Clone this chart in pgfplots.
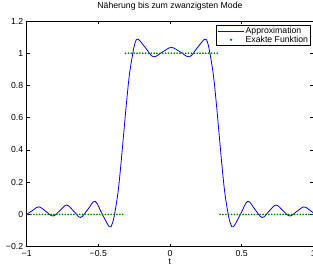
\documentclass[border=0pt]{standalone}
\usepackage{fontspec}
\setmainfont{Liberation Sans}
\usepackage{pgfplots}
\pgfplotsset{compat=1.18}
\usetikzlibrary{calc}
\definecolor{mblue}{rgb}{0,0,1}
\definecolor{mgreen}{rgb}{0,0.5,0}
\newcommand{\fs}{\fontsize{8.7}{10.4}\selectfont}
\pgfplotsset{
  legline/.style={legend image code/.code={\pgfsetstrokecolor{mblue}\draw[draw=mblue, line width=0.8pt] (0pt,0pt) -- (26pt,0pt);}},
  legmark/.style={legend image code/.code={\fill[color=mgreen] (13pt,0pt) circle[radius=0.6pt];}},
}
\begin{document}
\begin{tikzpicture}
\begin{axis}[
  name=ax,
  scale only axis,
  width=286.6pt, height=225.7pt,
  xmin=-1, xmax=1, ymin=-0.2, ymax=1.2,
  xtick={-1,-0.5,0,0.5,1},
  xticklabels={−1,−0.5,0,0.5,1},
  ytick={-0.2,0,0.2,0.4,0.6,0.8,1,1.2},
  yticklabels={−0.2,0,0.2,0.4,0.6,0.8,1,1.2},
  tick align=inside,
  major tick length=3pt,
  tick style={black, line width=0.5pt},
  axis line style={line width=0.5pt},
  font=\fs,
  ticklabel style={font=\fs},
  title={Näherung bis zum zwanzigsten Mode},
  title style={font=\fs, yshift=1.5pt},
  xlabel={t},
  xlabel style={font=\fs, yshift=4pt},
  legend style={at={(1,1)}, anchor=north east, xshift=-2pt, yshift=-4pt,
    draw=black, line width=0.9pt, fill=white, font=\fs,
    inner xsep=1.5pt, inner ysep=0.5pt, row sep=-1.5pt,
    nodes={inner sep=1.2pt}},
  legend cell align=left,
]
\addplot[color=mblue, line width=0.8pt, smooth, tension=0.6, legline]
coordinates {
(-1.0,0.0) (-0.953,0.028) (-0.915,0.047) (-0.865,0.018) (-0.816,-0.01)
(-0.768,0.024) (-0.72,0.058) (-0.672,0.02) (-0.624,-0.019) (-0.573,0.031)
(-0.523,0.081) (-0.473,0.002) (-0.423,-0.077) (-0.403,-0.058) (-0.387,0.0)
(-0.363,0.134) (-0.343,0.304) (-0.323,0.5) (-0.303,0.696) (-0.283,0.866)
(-0.259,1.0) (-0.243,1.065) (-0.223,1.0875) (-0.17,1.033) (-0.116,0.978)
(-0.053,1.007) (0.01,1.036) (0.073,1.007) (0.136,0.978) (0.19,1.033)
(0.243,1.0875) (0.263,1.065) (0.279,1.0) (0.303,0.866) (0.323,0.696)
(0.343,0.5) (0.363,0.304) (0.383,0.134) (0.407,0.0) (0.423,-0.058)
(0.443,-0.077) (0.493,0.002) (0.543,0.081) (0.593,0.031) (0.644,-0.019)
(0.692,0.02) (0.74,0.058) (0.788,0.024) (0.836,-0.01) (0.885,0.018)
(0.935,0.047) (0.973,0.028) (1.0,0.01)
};
\addlegendentry{Approximation}
\addplot[color=mgreen, only marks, mark=*, mark size=0.6pt, legmark]
coordinates {
(-0.99,0) (-0.97,0) (-0.95,0) (-0.93,0) (-0.91,0) (-0.89,0) (-0.87,0) (-0.85,0)
(-0.83,0) (-0.81,0) (-0.79,0) (-0.77,0) (-0.75,0) (-0.73,0) (-0.71,0) (-0.69,0)
(-0.67,0) (-0.65,0) (-0.63,0) (-0.61,0) (-0.59,0) (-0.57,0) (-0.55,0) (-0.53,0)
(-0.51,0) (-0.49,0) (-0.47,0) (-0.45,0) (-0.43,0) (-0.41,0) (-0.39,0) (-0.37,0)
(-0.35,0) (-0.33,0)
(-0.31,1) (-0.29,1) (-0.27,1) (-0.25,1) (-0.23,1) (-0.21,1) (-0.19,1) (-0.17,1)
(-0.15,1) (-0.13,1) (-0.11,1) (-0.09,1) (-0.07,1) (-0.05,1) (-0.03,1) (-0.01,1)
(0.01,1) (0.03,1) (0.05,1) (0.07,1) (0.09,1) (0.11,1) (0.13,1) (0.15,1)
(0.17,1) (0.19,1) (0.21,1) (0.23,1) (0.25,1) (0.27,1) (0.29,1) (0.31,1) (0.33,1)
(0.35,0) (0.37,0) (0.39,0) (0.41,0) (0.43,0) (0.45,0) (0.47,0) (0.49,0)
(0.51,0) (0.53,0) (0.55,0) (0.57,0) (0.59,0) (0.61,0) (0.63,0) (0.65,0)
(0.67,0) (0.69,0) (0.71,0) (0.73,0) (0.75,0) (0.77,0) (0.79,0) (0.81,0)
(0.83,0) (0.85,0) (0.87,0) (0.89,0) (0.91,0) (0.93,0) (0.95,0) (0.97,0) (0.99,0)
};
\addlegendentry{Exakte Funktion}
\end{axis}
\draw[line width=1.1pt] (ax.north west) -- (ax.south west) -- (ax.south east);
\pgfresetboundingbox
\path[use as bounding box] ($(ax.south west)+(-26.7pt,-20.3pt)$) rectangle ($(ax.north east)+(-0.2pt,21pt)$);
\end{tikzpicture}
\end{document}
